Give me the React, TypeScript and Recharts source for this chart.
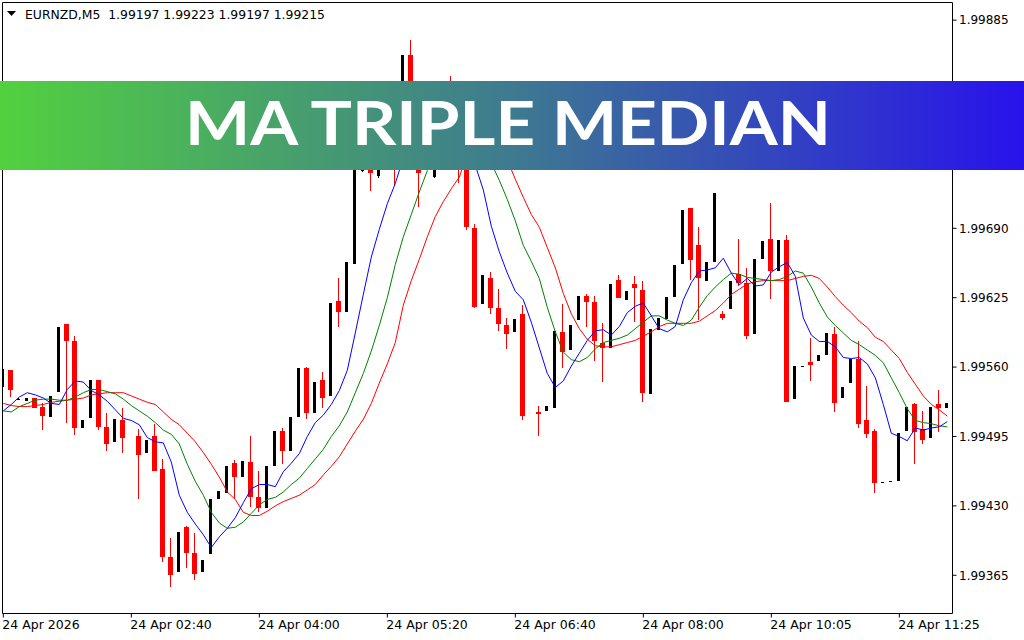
import React from 'react';
import { ComposedChart, Bar, Line, XAxis, YAxis, ReferenceArea } from 'recharts';

// ---- Data (EURNZD, M5) ----
const opens: (number | null)[] = [
  1.99541, 1.99557, 1.99530, 1.99528, 1.99531, 1.99523, 1.99513, 1.99537, 1.99600, 1.99584,
  1.99503, 1.99512, 1.99548, 1.99504, 1.99490, 1.99510, null, 1.99495, 1.99480, 1.99495,
  1.99465, 1.99382, 1.99368, 1.99410, 1.99386, 1.99368, 1.99385, 1.99436, 1.99442, 1.99470,
  1.99457, 1.99471, 1.99438, 1.99428, 1.99467, 1.99500, 1.99481, 1.99513, 1.99559, 1.99517,
  1.99548, 1.99533, 1.99622, 1.99612, 1.99657, 1.99744, 1.99773, 1.99739, 1.99791, 1.99810,
  1.99763, 1.99852, 1.99791, 1.99749, 1.99738, 1.99782, 1.99810, 1.99773, 1.99763, 1.99690,
  1.99619, 1.99643, 1.99615, 1.99599, 1.99593, 1.99610, null, 1.99518, 1.99519, 1.99522,
  1.99593, 1.99576, 1.99604, 1.99627, 1.99621, 1.99583, 1.99578, 1.99642, 1.99623, 1.99638,
  1.99632, 1.99535, 1.99595, 1.99605, 1.99626, 1.99657, 1.99709, 1.99674, 1.99641, 1.99658,
  1.99610, 1.99614, 1.99647, 1.99639, 1.99591, 1.99661, 1.99680, 1.99650, 1.99679, 1.99530,
  1.99561, 1.99565, 1.99566, 1.99571, 1.99591, 1.99531, 1.99545, 1.99568, 1.99510, 1.99500,
  1.99452, 1.99453, 1.99453, 1.99500, 1.99525, 1.99502, 1.99494, 1.99525, 1.99522,
];

const highs: (number | null)[] = [
  1.99558, 1.99557, 1.99531, 1.99531, 1.99531, 1.99526, 1.99533, 1.99598, 1.99600, 1.99589,
  1.99510, 1.99548, 1.99548, 1.99517, 1.99511, 1.99522, null, 1.99502, 1.99492, 1.99507,
  1.99474, 1.99400, 1.99406, 1.99411, 1.99405, 1.99379, 1.99436, 1.99444, 1.99467, 1.99473,
  1.99472, 1.99495, 1.99463, 1.99467, 1.99500, 1.99503, 1.99513, 1.99559, 1.99560, 1.99546,
  1.99555, 1.99620, 1.99643, 1.99658, 1.99759, 1.99787, 1.99782, 1.99801, 1.99820, 1.99815,
  1.99852, 1.99866, 1.99801, 1.99796, 1.99787, 1.99810, 1.99833, 1.99777, 1.99773, 1.99694,
  1.99646, 1.99649, 1.99633, 1.99606, 1.99605, 1.99618, null, 1.99524, 1.99524, 1.99594,
  1.99619, 1.99599, 1.99627, 1.99628, 1.99627, 1.99601, 1.99638, 1.99646, 1.99631, 1.99645,
  1.99641, 1.99596, 1.99606, 1.99626, 1.99656, 1.99707, 1.99709, 1.99691, 1.99658, 1.99723,
  1.99613, 1.99641, 1.99680, 1.99653, 1.99661, 1.99678, 1.99714, 1.99679, 1.99684, 1.99561,
  1.99561, 1.99587, 1.99571, 1.99592, 1.99598, 1.99541, 1.99568, 1.99584, 1.99542, 1.99502,
  1.99452, 1.99453, 1.99498, 1.99523, 1.99526, 1.99519, 1.99523, 1.99539, 1.99526,
];

const lows: (number | null)[] = [
  1.99541, 1.99532, 1.99529, 1.99528, 1.99522, 1.99501, 1.99513, 1.99537, 1.99508, 1.99496,
  1.99503, 1.99512, 1.99501, 1.99481, 1.99490, 1.99480, null, 1.99436, 1.99480, 1.99463,
  1.99377, 1.99354, 1.99368, 1.99372, 1.99361, 1.99368, 1.99385, 1.99436, 1.99442, 1.99436,
  1.99457, 1.99429, 1.99424, 1.99428, 1.99467, 1.99469, 1.99481, 1.99513, 1.99511, 1.99517,
  1.99522, 1.99533, 1.99598, 1.99612, 1.99657, 1.99743, 1.99725, 1.99737, 1.99787, 1.99731,
  1.99759, 1.99787, 1.99710, 1.99745, 1.99737, 1.99773, 1.99763, 1.99732, 1.99688, 1.99615,
  1.99619, 1.99610, 1.99594, 1.99577, 1.99593, 1.99510, null, 1.99495, 1.99519, 1.99522,
  1.99559, 1.99576, 1.99604, 1.99598, 1.99566, 1.99546, 1.99578, 1.99625, 1.99623, 1.99602,
  1.99527, 1.99535, 1.99595, 1.99605, 1.99626, 1.99657, 1.99642, 1.99604, 1.99641, 1.99658,
  1.99604, 1.99614, 1.99636, 1.99586, 1.99591, 1.99661, 1.99624, 1.99650, 1.99527, 1.99530,
  1.99561, 1.99547, 1.99566, 1.99571, 1.99518, 1.99531, 1.99545, 1.99503, 1.99494, 1.99442,
  1.99452, 1.99453, 1.99453, 1.99500, 1.99469, 1.99488, 1.99494, 1.99499, 1.99522,
];

const closes: (number | null)[] = [
  1.99558, 1.99539, 1.99530, 1.99531, 1.99522, 1.99514, 1.99533, 1.99598, 1.99584, 1.99503,
  1.99510, 1.99548, 1.99504, 1.99488, 1.99511, 1.99494, null, 1.99478, 1.99492, 1.99463,
  1.99382, 1.99365, 1.99406, 1.99386, 1.99366, 1.99379, 1.99436, 1.99444, 1.99467, 1.99457,
  1.99472, 1.99438, 1.99428, 1.99467, 1.99500, 1.99481, 1.99513, 1.99559, 1.99517, 1.99546,
  1.99531, 1.99620, 1.99612, 1.99658, 1.99754, 1.99782, 1.99742, 1.99791, 1.99815, 1.99763,
  1.99852, 1.99791, 1.99742, 1.99791, 1.99782, 1.99801, 1.99773, 1.99754, 1.99691, 1.99616,
  1.99646, 1.99615, 1.99600, 1.99591, 1.99605, 1.99514, null, 1.99516, 1.99524, 1.99594,
  1.99574, 1.99599, 1.99627, 1.99621, 1.99584, 1.99578, 1.99638, 1.99625, 1.99631, 1.99634,
  1.99536, 1.99596, 1.99606, 1.99626, 1.99656, 1.99707, 1.99660, 1.99643, 1.99658, 1.99723,
  1.99606, 1.99641, 1.99639, 1.99589, 1.99661, 1.99678, 1.99650, 1.99679, 1.99527, 1.99561,
  1.99561, 1.99562, 1.99571, 1.99592, 1.99526, 1.99541, 1.99568, 1.99507, 1.99497, 1.99451,
  1.99452, 1.99453, 1.99498, 1.99523, 1.99499, 1.99492, 1.99523, 1.99522, 1.99526,
];

const maBlue: number[] = [
  1.99519, 1.99525, 1.99532, 1.99536, 1.99534, 1.99531, 1.99526, 1.99525, 1.99539, 1.99547,
  1.99546, 1.99538, 1.99534, 1.99528, 1.99520, 1.99512, 1.99510, 1.99506, 1.99494, 1.99490,
  1.99489, 1.99471, 1.99440, 1.99424, 1.99413, 1.99403, 1.99391, 1.99401, 1.99409, 1.99419,
  1.99433, 1.99446, 1.99450, 1.99450, 1.99448, 1.99462, 1.99470, 1.99479, 1.99495, 1.99508,
  1.99515, 1.99525, 1.99538, 1.99557, 1.99592, 1.99628, 1.99663, 1.99689, 1.99713, 1.99732,
  1.99756, 1.99773, 1.99787, 1.99793, 1.99796, 1.99793, 1.99787, 1.99775, 1.99763, 1.99749,
  1.99726, 1.99692, 1.99668, 1.99648, 1.99631, 1.99623, 1.99602, 1.99578, 1.99554, 1.99541,
  1.99547, 1.99561, 1.99573, 1.99585, 1.99594, 1.99595, 1.99590, 1.99598, 1.99611, 1.99617,
  1.99620, 1.99608, 1.99596, 1.99593, 1.99598, 1.99623, 1.99639, 1.99650, 1.99651, 1.99653,
  1.99662, 1.99648, 1.99637, 1.99643, 1.99636, 1.99637, 1.99649, 1.99654, 1.99658, 1.99645,
  1.99606, 1.99590, 1.99584, 1.99584, 1.99579, 1.99569, 1.99568, 1.99569, 1.99563, 1.99550,
  1.99525, 1.99498, 1.99495, 1.99491, 1.99503, 1.99501, 1.99503, 1.99504, 1.99509,
];

const maGreen: number[] = [
  1.99519, 1.99518, 1.99523, 1.99526, 1.99529, 1.99530, 1.99530, 1.99529, 1.99529, 1.99532,
  1.99536, 1.99539, 1.99539, 1.99537, 1.99535, 1.99530, 1.99524, 1.99519, 1.99514, 1.99508,
  1.99501, 1.99497, 1.99488, 1.99469, 1.99453, 1.99440, 1.99424, 1.99414, 1.99409, 1.99410,
  1.99415, 1.99423, 1.99431, 1.99436, 1.99438, 1.99443, 1.99450, 1.99456, 1.99465, 1.99474,
  1.99483, 1.99495, 1.99505, 1.99518, 1.99536, 1.99554, 1.99575, 1.99599, 1.99625, 1.99656,
  1.99682, 1.99703, 1.99724, 1.99744, 1.99756, 1.99766, 1.99773, 1.99776, 1.99777, 1.99773,
  1.99761, 1.99751, 1.99735, 1.99717, 1.99697, 1.99674, 1.99659, 1.99643, 1.99616, 1.99593,
  1.99574, 1.99567, 1.99565, 1.99569, 1.99577, 1.99583, 1.99585, 1.99587, 1.99590, 1.99596,
  1.99602, 1.99608, 1.99608, 1.99604, 1.99601, 1.99599, 1.99604, 1.99616, 1.99627, 1.99635,
  1.99642, 1.99648, 1.99647, 1.99644, 1.99643, 1.99642, 1.99641, 1.99642, 1.99645, 1.99650,
  1.99648, 1.99635, 1.99620, 1.99607, 1.99599, 1.99592, 1.99585, 1.99581, 1.99576, 1.99571,
  1.99564, 1.99550, 1.99536, 1.99521, 1.99510, 1.99508, 1.99507, 1.99505, 1.99504,
];

const maRed: number[] = [
  1.99526, 1.99524, 1.99523, 1.99523, 1.99524, 1.99525, 1.99527, 1.99528, 1.99529, 1.99530,
  1.99531, 1.99534, 1.99535, 1.99536, 1.99536, 1.99536, 1.99533, 1.99530, 1.99527, 1.99525,
  1.99518, 1.99511, 1.99506, 1.99498, 1.99490, 1.99480, 1.99469, 1.99457, 1.99443, 1.99436,
  1.99424, 1.99421, 1.99421, 1.99425, 1.99430, 1.99434, 1.99437, 1.99440, 1.99445, 1.99450,
  1.99459, 1.99467, 1.99476, 1.99488, 1.99500, 1.99511, 1.99526, 1.99545, 1.99563, 1.99583,
  1.99618, 1.99641, 1.99661, 1.99682, 1.99701, 1.99715, 1.99727, 1.99738, 1.99759, 1.99770,
  1.99775, 1.99773, 1.99766, 1.99754, 1.99736, 1.99719, 1.99703, 1.99691, 1.99672, 1.99653,
  1.99629, 1.99610, 1.99596, 1.99586, 1.99580, 1.99579, 1.99579, 1.99581, 1.99583, 1.99585,
  1.99589, 1.99593, 1.99598, 1.99601, 1.99601, 1.99601, 1.99601, 1.99603, 1.99608, 1.99613,
  1.99620, 1.99628, 1.99633, 1.99638, 1.99640, 1.99641, 1.99641, 1.99641, 1.99641, 1.99643,
  1.99645, 1.99646, 1.99643, 1.99635, 1.99626, 1.99618, 1.99611, 1.99603, 1.99597, 1.99588,
  1.99584, 1.99576, 1.99568, 1.99555, 1.99544, 1.99533, 1.99525, 1.99520, 1.99514,
];

const timeTickBars: number[] = [0, 16, 32, 48, 64, 80, 96, 112];
const timeTickLabels: string[] = [
  '24 Apr 2026', '24 Apr 02:40', '24 Apr 04:00', '24 Apr 05:20',
  '24 Apr 06:40', '24 Apr 08:00', '24 Apr 10:05', '24 Apr 11:25',
];
const priceTicks: number[] = [1.99365, 1.9943, 1.99495, 1.9956, 1.99625, 1.9969, 1.99755, 1.9982, 1.99885];

const titleText = 'EURNZD,M5  1.99197 1.99223 1.99197 1.99215';
const bannerText = 'MA TRIPLE MEDIAN';

const X_DOMAIN: [number, number] = [-0.1, 118.65];
const Y_DOMAIN: [number, number] = [1.993292, 1.999015];

const data = opens.map((o, i) => ({
  i,
  open: o,
  high: highs[i],
  low: lows[i],
  close: closes[i],
  range: o == null ? null : [lows[i] as number, highs[i] as number],
  blue: maBlue[i],
  green: maGreen[i],
  red: maRed[i],
}));

const FONT = '"DejaVu Sans", Tahoma, Verdana, sans-serif';

const Candle = (props: any) => {
  const { x, y, width, height, payload } = props;
  if (!payload || payload.open == null || x == null || y == null) return null;
  const { open, high, low, close } = payload;
  const top = Math.min(y, y + (height || 0));
  const bottom = Math.max(y, y + (height || 0));
  const span = high - low;
  const py = (p: number) => (span > 0 ? top + ((high - p) / span) * (bottom - top) : top);
  const cx = Math.floor(x + width / 2);
  const bull = close >= open;
  const color = bull ? '#000000' : '#ff0000';
  const yHigh = Math.round(py(high));
  const yLow = Math.round(py(low));
  const yO = Math.round(py(open));
  const yC = Math.round(py(close));
  const bTop = Math.min(yO, yC);
  const bH = Math.max(1, Math.abs(yO - yC));
  const bw = bull ? 3 : 5;
  return (
    <g shapeRendering="crispEdges">
      <rect x={cx} y={yHigh} width={1} height={Math.max(1, yLow - yHigh)} fill={color} />
      <rect x={cx - (bull ? 1 : 2)} y={bTop} width={bw} height={bH} fill={color} />
    </g>
  );
};

const TimeTick = (props: any) => {
  const { x, y, payload } = props;
  const idx = timeTickBars.indexOf(payload.value);
  if (idx < 0) return null;
  return (
    <text x={x - 1} y={y} dy="0.71em" textAnchor="start" fontFamily={FONT} fontSize={12.5} fill="#000">
      {timeTickLabels[idx]}
    </text>
  );
};

export default function App() {
  return (
    <div style={{ position: 'absolute', left: 0, top: 0, width: 1024, height: 640, background: '#ffffff', overflow: 'hidden' }}>
      <ComposedChart
        width={1024}
        height={640}
        data={data}
        margin={{ top: 2.5, right: 0, bottom: 0, left: 2.5 }}
      >
        <XAxis
          dataKey="i"
          type="number"
          domain={X_DOMAIN}
          allowDataOverflow
          ticks={timeTickBars}
          interval={0}
          height={26.5}
          axisLine={false}
          tickLine={{ stroke: '#000' }}
          tickSize={4}
          tickMargin={3}
          tick={<TimeTick />}
        />
        <YAxis
          orientation="right"
          type="number"
          domain={Y_DOMAIN}
          allowDataOverflow
          ticks={priceTicks}
          interval={0}
          width={71.5}
          axisLine={false}
          tickLine={{ stroke: '#000' }}
          tickSize={4}
          tickMargin={2.5}
          tickFormatter={(v: number) => v.toFixed(5)}
          tick={{ fontFamily: FONT, fontSize: 12, fill: '#000' }}
        />
        <ReferenceArea
          x1={X_DOMAIN[0]}
          x2={X_DOMAIN[1]}
          y1={Y_DOMAIN[0]}
          y2={Y_DOMAIN[1]}
          fill="none"
          fillOpacity={0}
          stroke="#000"
          strokeWidth={1}
          ifOverflow="visible"
        />
        <Bar dataKey="range" barSize={5} isAnimationActive={false} shape={(p: any) => <Candle {...p} />} />
        <Line type="linear" dataKey="red" stroke="#ff0000" strokeWidth={1} dot={false} activeDot={false} isAnimationActive={false} />
        <Line type="linear" dataKey="green" stroke="#008000" strokeWidth={1} dot={false} activeDot={false} isAnimationActive={false} />
        <Line type="linear" dataKey="blue" stroke="#0000ff" strokeWidth={1} dot={false} activeDot={false} isAnimationActive={false} />
      </ComposedChart>

      <svg style={{ position: 'absolute', left: 0, top: 0 }} width={400} height={26}>
        <polygon points="7,11 16,11 11.5,16" fill="#000" />
        <text x={25} y={19} fontFamily={FONT} fontSize={12.4} fill="#000" style={{ whiteSpace: 'pre' }}>
          {titleText}
        </text>
      </svg>

      <svg style={{ position: 'absolute', left: 0, top: 81 }} width={1024} height={89}>
        <defs>
          <linearGradient id="bannerGrad" x1="0" y1="0" x2="1" y2="0">
            <stop offset="0" stopColor="#52d13f" />
            <stop offset="0.5" stopColor="#3e7a90" />
            <stop offset="1" stopColor="#2812ec" />
          </linearGradient>
        </defs>
        <rect x={0} y={0} width={1024} height={89} fill="url(#bannerGrad)" />
        <text
          x={185}
          y={64}
          fontFamily='"Lato", "Open Sans", sans-serif'
          fontWeight={700}
          fontSize={62}
          fill="#ffffff"
          textLength={646}
          lengthAdjust="spacingAndGlyphs"
        >
          {bannerText}
        </text>
      </svg>
    </div>
  );
}
